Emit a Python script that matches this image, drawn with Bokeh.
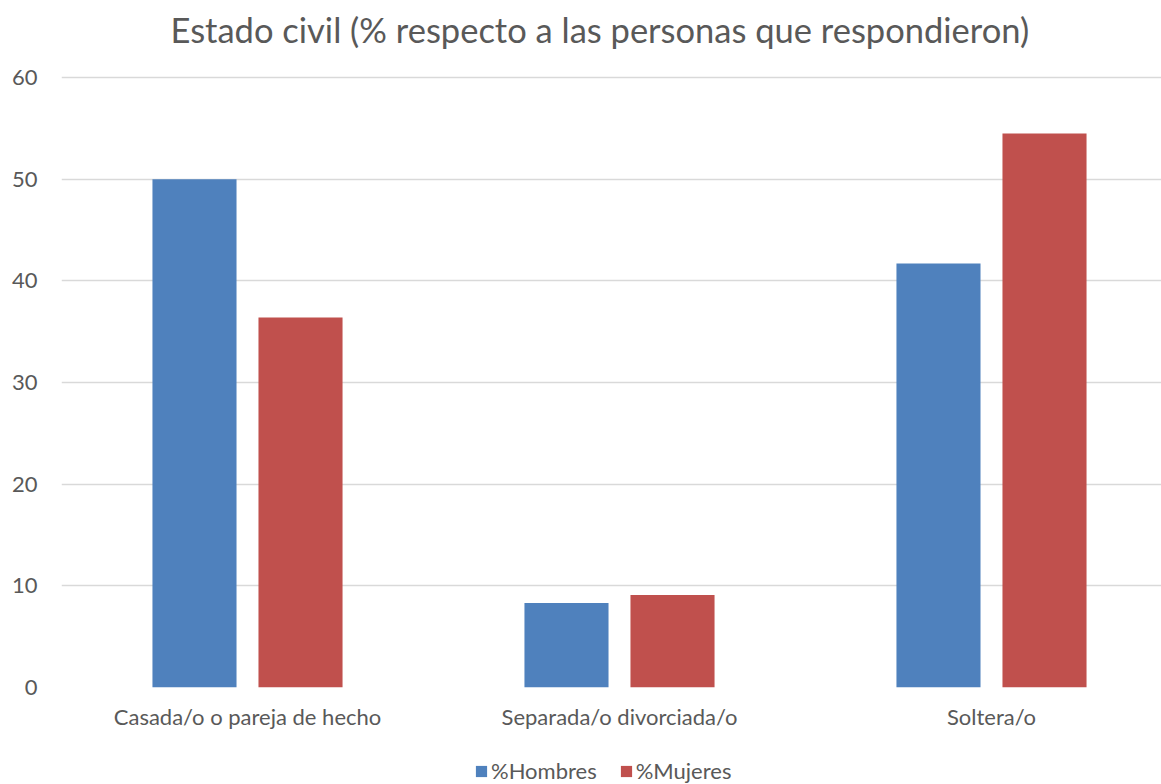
from bokeh.plotting import figure
from bokeh.layouts import column
from bokeh.models import (Range1d, Legend, LegendItem, ColumnDataSource,
                          SingleIntervalTicker, FixedTicker, Title)
from bokeh.transform import dodge
from bokeh.embed import file_html
from bokeh.resources import INLINE

categories = ["Casada/o o pareja de hecho", "Separada/o divorciada/o", "Soltera/o"]
hombres = [50.0, 8.3, 41.7]
mujeres = [36.4, 9.1, 54.5]
series = ["%Hombres", "%Mujeres"]
colors = ["#4F81BD", "#C0504D"]

FONT = "Lato"
TXT = "#595959"

xs = list(range(len(categories)))
src = ColumnDataSource(dict(x=xs, cat=categories, h=hombres, m=mujeres))

p = figure(x_range=Range1d(-0.5, 2.457), y_range=Range1d(0, 60.2),
           width=1161, height=752, output_backend="svg", toolbar_location=None,
           min_border_left=61, min_border_right=0, min_border_top=75, min_border_bottom=65)

p.title.text = "Estado civil (% respecto a las personas que respondieron)"
p.title.align = "left"
p.title.offset = 109
p.title.text_font = FONT
p.title.text_font_size = "34.5px"
p.title.text_font_style = "normal"
p.title.text_color = TXT
p.add_layout(Title(text=" ", text_font_size="8px"), "above")

r1 = p.vbar(x=dodge("x", -0.1425), top="h", width=0.226, source=src,
            color=colors[0], line_color=None)
r2 = p.vbar(x=dodge("x", 0.1425), top="m", width=0.226, source=src,
            color=colors[1], line_color=None)

p.outline_line_color = None
p.xgrid.grid_line_color = None
p.ygrid.grid_line_color = "#D9D9D9"
p.ygrid.grid_line_width = 1.5
p.yaxis.ticker = SingleIntervalTicker(interval=10)
p.xaxis.ticker = FixedTicker(ticks=xs)
p.xaxis.major_label_overrides = {i: c for i, c in zip(xs, categories)}

for ax in (p.xaxis[0], p.yaxis[0]):
    ax.axis_line_color = None
    ax.major_tick_line_color = None
    ax.minor_tick_line_color = None
    ax.major_label_text_font = FONT
    ax.major_label_text_color = TXT
    ax.major_label_text_font_size = "22px"

p.xaxis.major_label_standoff = 9
p.yaxis.major_label_standoff = 18

# legend strip below the chart (zero-height series far out of view; only legend visible)
lg = figure(x_range=Range1d(-0.5, 2.457), y_range=Range1d(1000, 1001), width=1161, height=32,
            output_backend="svg", toolbar_location=None,
            x_axis_location=None, y_axis_location=None,
            min_border_left=61, min_border_right=0, min_border_top=0, min_border_bottom=0)
lg.outline_line_color = None
lg.xgrid.grid_line_color = None
lg.ygrid.grid_line_color = None
l1 = lg.vbar(x=dodge("x", -0.1425), bottom="h", top="h", width=0.226, source=src,
             color=colors[0], line_color=None)
l2 = lg.vbar(x=dodge("x", 0.1425), bottom="m", top="m", width=0.226, source=src,
             color=colors[1], line_color=None)

legend = Legend(items=[LegendItem(label=series[0], renderers=[l1]),
                       LegendItem(label=series[1], renderers=[l2])],
                orientation="horizontal", location=(413, 0),
                border_line_color=None, background_fill_alpha=0,
                glyph_width=14, glyph_height=14, spacing=22, label_standoff=3,
                label_height=26,
                label_text_font=FONT, label_text_font_size="22px", label_text_color=TXT,
                padding=0, margin=0)
lg.add_layout(legend, "center")

layout = column(p, lg, spacing=0)
open("out.html", "w").write(file_html(layout, INLINE))
